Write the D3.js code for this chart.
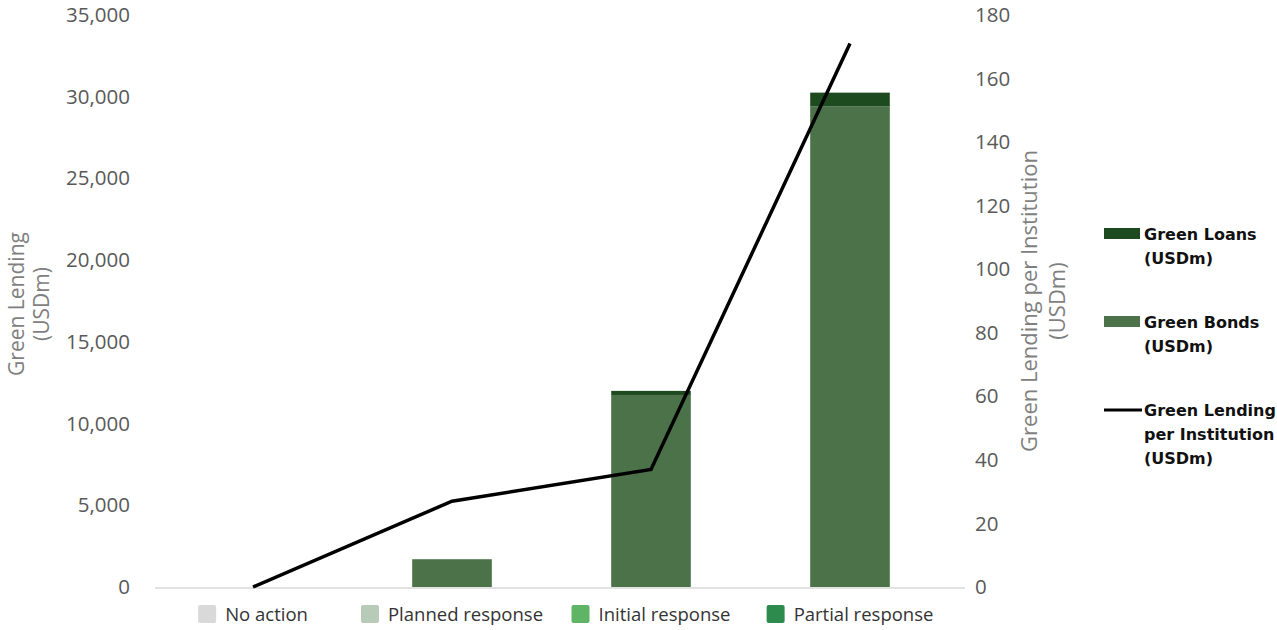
<!DOCTYPE html>
<html>
<head>
<meta charset="utf-8">
<script src="https://cdn.jsdelivr.net/npm/d3@7"></script>
<style>
  body { margin: 0; background: #fff; font-family: "Open Sans", sans-serif; }
</style>
</head>
<body>
<div id="chart"></div>
<script>
const categories = ["No action", "Planned response", "Initial response", "Partial response"];
const categoryColors = ["#d9d9d9", "#b8cbb8", "#5fb565", "#2e8b4e"];
const greenBonds = [0, 1700, 11750, 29400];
const greenLoans = [0, 0, 250, 850];
const lendingPerInstitution = [0, 27, 37, 171];
const leftTicks = [0, 5000, 10000, 15000, 20000, 25000, 30000, 35000];
const rightTicks = [0, 20, 40, 60, 80, 100, 120, 140, 160, 180];

const width = 1277, height = 630;
const svg = d3.select("#chart").append("svg")
    .attr("width", width)
    .attr("height", height);

const x = d3.scaleBand()
    .domain(categories)
    .range([153.5, 949.5])
    .paddingInner(0.6)
    .paddingOuter(0.3);

const yLeft = d3.scaleLinear().domain([0, 35000]).range([587, 15]);
const yRight = d3.scaleLinear().domain([0, 180]).range([587, 15]);

// baseline
svg.append("line")
    .attr("x1", 155).attr("x2", 965)
    .attr("y1", 588).attr("y2", 588)
    .attr("stroke", "#d9d9d9").attr("stroke-width", 1.5);

// left axis
const leftAxis = svg.append("g")
    .attr("transform", "translate(140,0)")
    .call(d3.axisLeft(yLeft).tickValues(leftTicks).tickSize(0).tickPadding(10).tickFormat(d3.format(",")));
leftAxis.select(".domain").remove();
leftAxis.selectAll("text")
    .attr("fill", "#595959")
    .style("font-size", "20.5px")
    .style("font-family", "Open Sans");

// right axis
const rightAxis = svg.append("g")
    .attr("transform", "translate(965,0)")
    .call(d3.axisRight(yRight).tickValues(rightTicks).tickSize(0).tickPadding(10));
rightAxis.select(".domain").remove();
rightAxis.selectAll("text")
    .attr("fill", "#595959")
    .style("font-size", "20.5px")
    .style("font-family", "Open Sans");

// axis titles
const leftTitle = svg.append("text")
    .attr("transform", "translate(24,304) rotate(-90)")
    .attr("text-anchor", "middle")
    .attr("fill", "#7f7f7f")
    .style("font-size", "21px");
leftTitle.append("tspan").attr("x", 0).attr("dy", 0).text("Green Lending");
leftTitle.append("tspan").attr("x", 0).attr("dy", 25).text("(USDm)");

const rightTitle = svg.append("text")
    .attr("transform", "translate(1037,301) rotate(-90)")
    .attr("text-anchor", "middle")
    .attr("fill", "#7f7f7f")
    .style("font-size", "22px");
rightTitle.append("tspan").attr("x", 0).attr("dy", 0).text("Green Lending per Institution");
rightTitle.append("tspan").attr("x", 0).attr("dy", 28).text("(USDm)");

// stacked bars
const bw = x.bandwidth();
svg.append("g").selectAll("rect.bond")
    .data(categories)
    .join("rect")
    .attr("class", "bond")
    .attr("x", d => x(d))
    .attr("width", bw)
    .attr("y", (d, i) => yLeft(greenBonds[i]))
    .attr("height", (d, i) => yLeft(0) - yLeft(greenBonds[i]))
    .attr("fill", "#4b7248");

svg.append("g").selectAll("rect.loan")
    .data(categories)
    .join("rect")
    .attr("class", "loan")
    .attr("x", d => x(d))
    .attr("width", bw)
    .attr("y", (d, i) => yLeft(greenBonds[i] + greenLoans[i]))
    .attr("height", (d, i) => yLeft(greenBonds[i]) - yLeft(greenBonds[i] + greenLoans[i]))
    .attr("fill", "#1e4a20");

// line
const line = d3.line()
    .x((d, i) => x(categories[i]) + bw / 2)
    .y(d => yRight(d));
svg.append("path")
    .datum(lendingPerInstitution)
    .attr("d", line)
    .attr("fill", "none")
    .attr("stroke", "#000")
    .attr("stroke-width", 3.5);

// category labels with coloured squares
const catG = svg.append("g").selectAll("g")
    .data(categories)
    .join("g")
    .attr("transform", d => `translate(${x(d) + bw / 2},614)`);
catG.each(function (d, i) {
    const g = d3.select(this);
    const t = g.append("text")
        .attr("y", 7)
        .attr("fill", "#333")
        .style("font-size", "18.5px")
        .text(d);
    const tw = t.node().getComputedTextLength();
    const total = 18 + 9 + tw;
    const start = -total / 2;
    t.attr("x", start + 27);
    g.append("rect")
        .attr("x", start)
        .attr("y", -9)
        .attr("width", 18)
        .attr("height", 18)
        .attr("rx", 2)
        .attr("fill", categoryColors[i]);
});

// right legend
const legendItems = [
    { type: "rect", color: "#1e4a20", lines: ["Green Loans", "(USDm)"], y: 234 },
    { type: "rect", color: "#4b7248", lines: ["Green Bonds", "(USDm)"], y: 322 },
    { type: "line", color: "#000", lines: ["Green Lending", "per Institution", "(USDm)"], y: 410 }
];
const lg = svg.append("g").selectAll("g")
    .data(legendItems)
    .join("g")
    .attr("transform", d => `translate(1104,${d.y})`);
lg.each(function (d) {
    const g = d3.select(this);
    if (d.type === "rect") {
        g.append("rect").attr("x", 0).attr("y", -6).attr("width", 36).attr("height", 11).attr("fill", d.color);
    } else {
        g.append("line").attr("x1", 0).attr("x2", 38).attr("y1", 0).attr("y2", 0)
            .attr("stroke", d.color).attr("stroke-width", 3);
    }
    const t = g.append("text")
        .attr("x", 40)
        .attr("y", 6)
        .attr("fill", "#111")
        .style("font-size", "16px")
        .style("font-weight", "bold")
        .style("font-family", "DejaVu Sans");
    d.lines.forEach((s, i) => {
        t.append("tspan").attr("x", 40).attr("dy", i === 0 ? 0 : 24).text(s);
    });
});
</script>
</body>
</html>
